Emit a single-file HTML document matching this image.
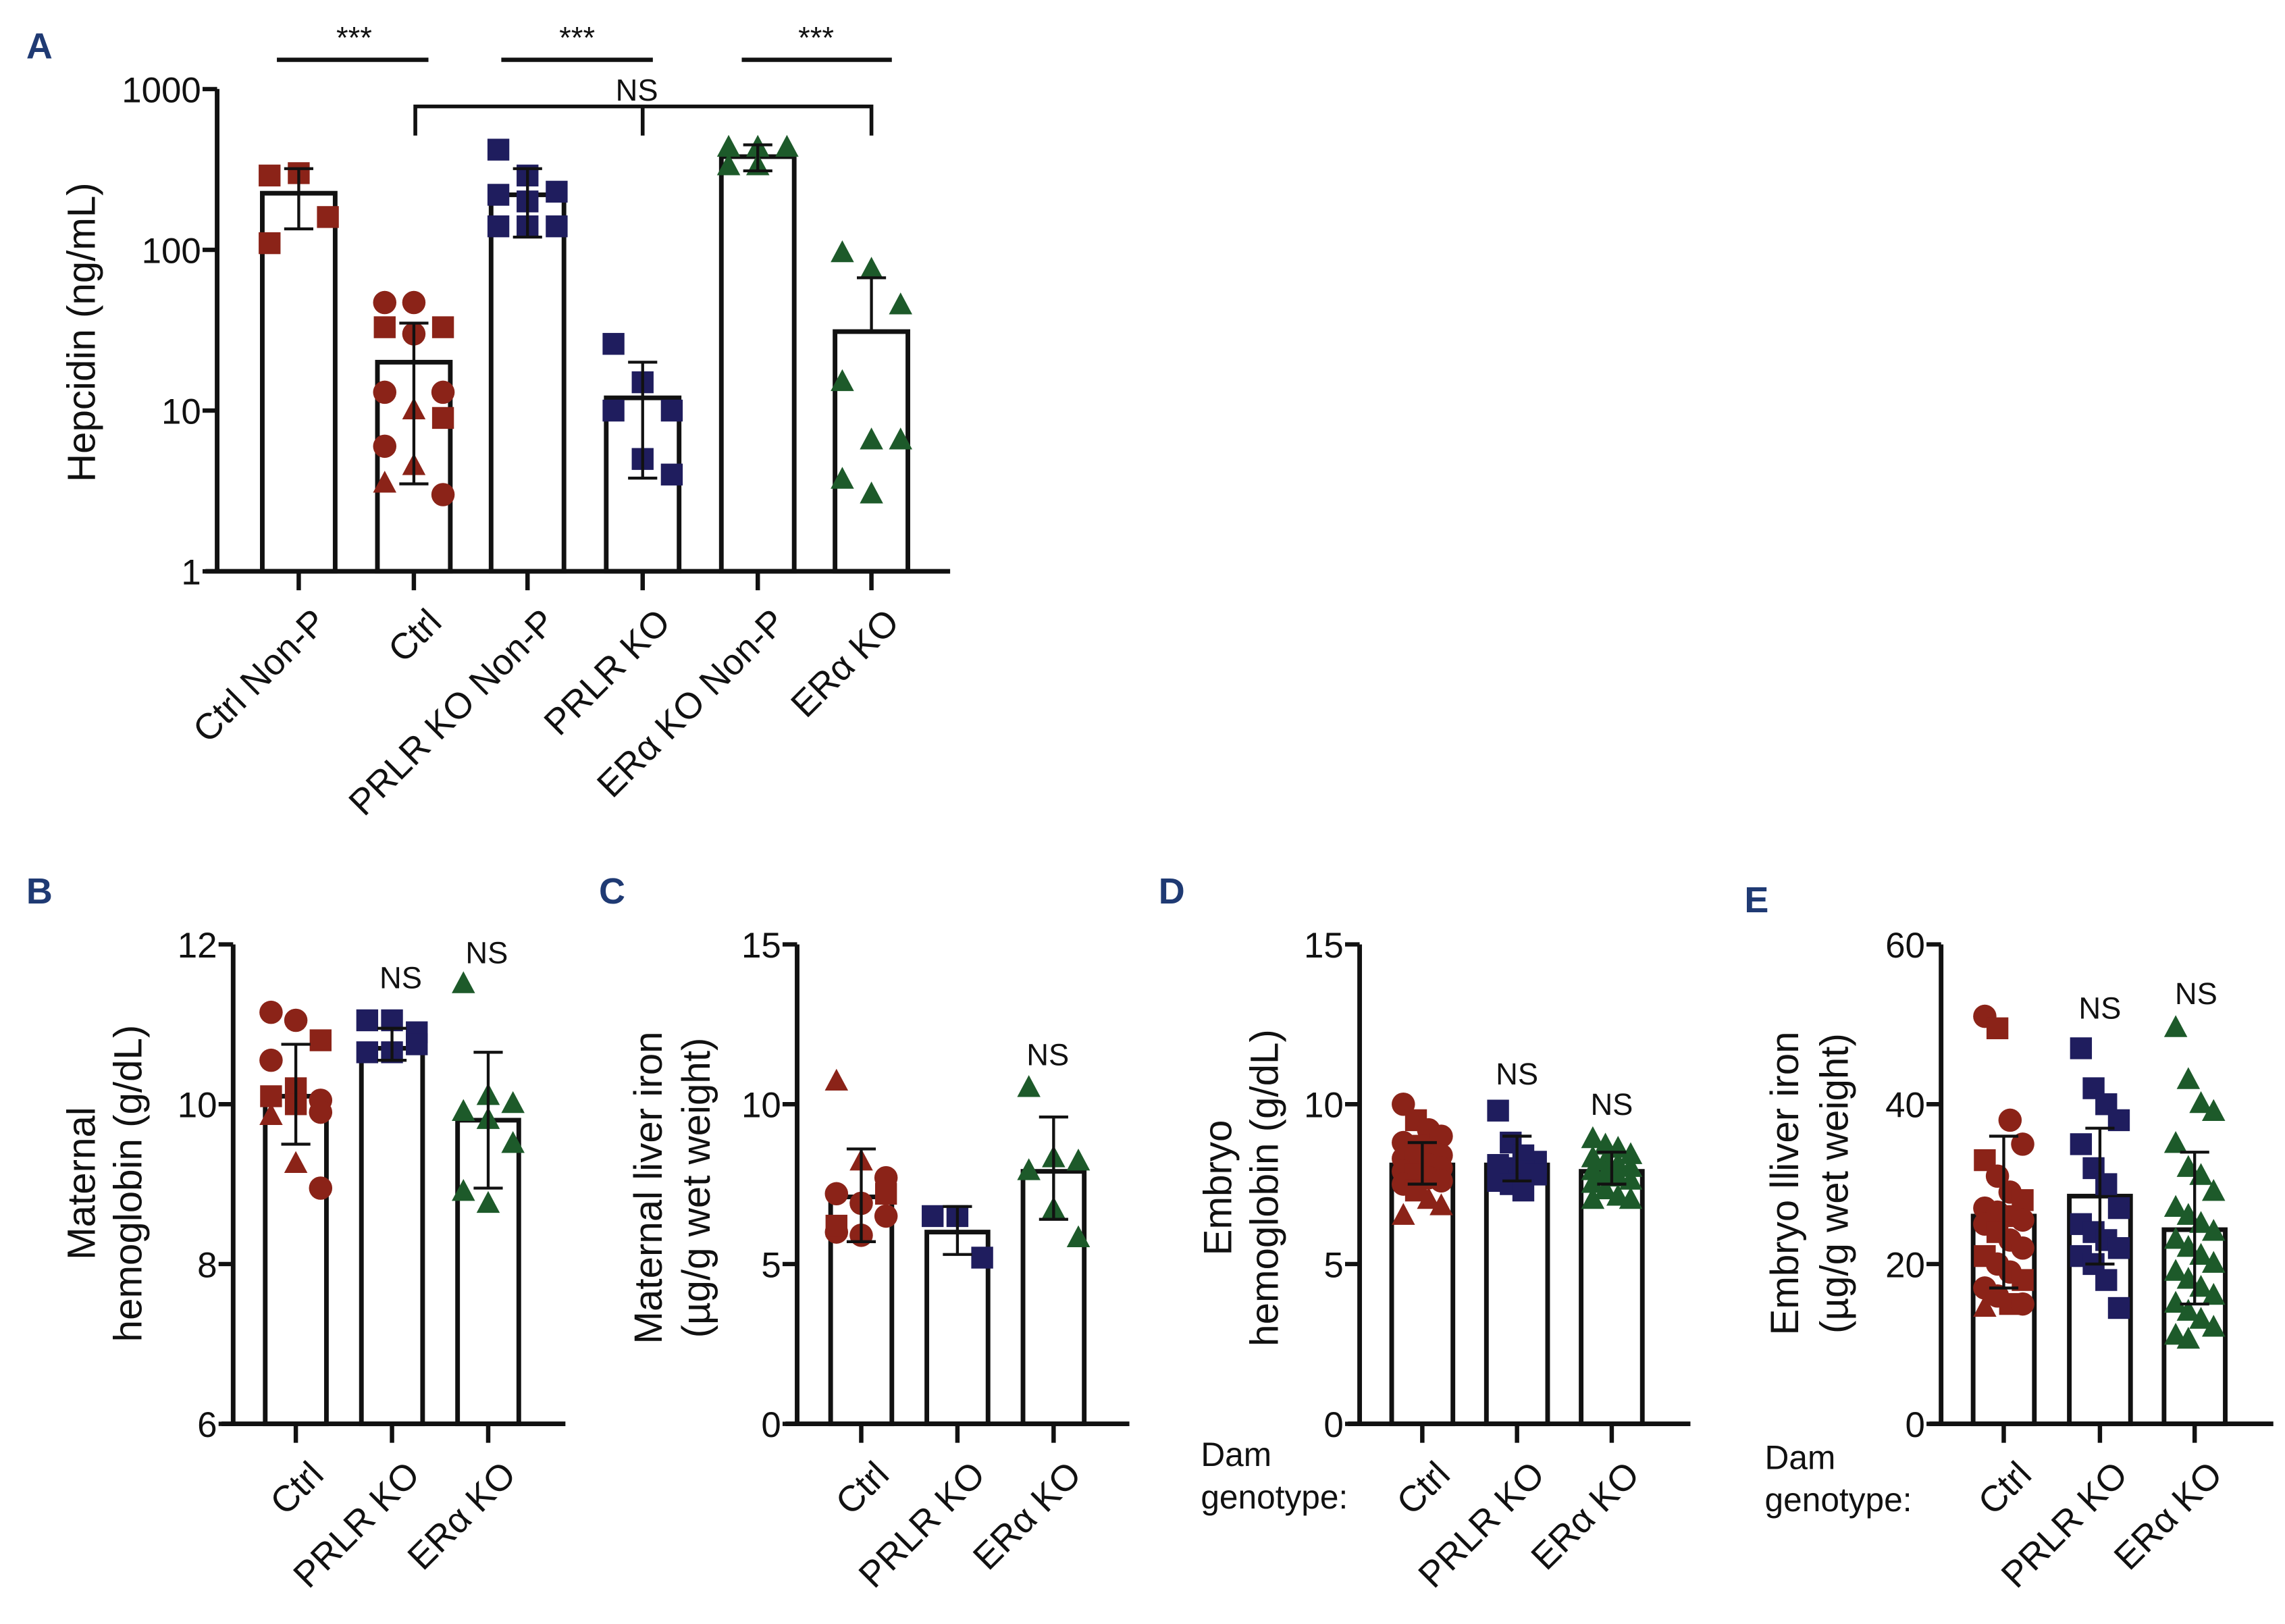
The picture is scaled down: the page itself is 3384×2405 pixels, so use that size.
<!DOCTYPE html>
<html><head><meta charset="utf-8"><style>
html,body{margin:0;padding:0;background:#fff}
svg{display:block}
text{font-family:"Liberation Sans",sans-serif}
</style></head><body>
<svg id="fig" xmlns="http://www.w3.org/2000/svg" width="3384" height="2405" viewBox="0 0 1568 1114.3">
<rect width="1568" height="1115" fill="#fff"/>
</svg>
<script>
// ---------- DATA ----------
const catsA = ["Ctrl Non-P","Ctrl","PRLR KO Non-P","PRLR KO","ERα KO Non-P","ERα KO"];
const meansA = [225,20,220,12,380,31];
const errLoA = [135,3.5,120,3.8,310,31];
const errHiA = [320,35,320,20,450,67];
const ptsA = [[290,300,160,110],[47,47,33,33,30,13,13,10,9,6,4.5,3,3.5],[420,290,230,220,200,140,140,140],[26,15,10,10,5,4],[430,430,430,330,330],[95,75,45,15,6.5,6.5,3.7,3]];
const shpA = [["s","s","s","s"],["c","c","s","s","c","c","c","t","s","c","t","c","t"],["s","s","s","s","s","s","s","s"],["s","s","s","s","s","s"],["t","t","t","t","t"],["t","t","t","t","t","t","t","t"]];
const colA = ["r","r","b","b","g","g"];
const ticksA = [1,10,100,1000];

const catsBCDE = ["Ctrl","PRLR KO","ERα KO"];
const meansB = [10.1,10.7,9.8], errLoB=[9.5,10.55,8.95], errHiB=[10.75,10.95,10.65];
const ptsB = [[11.15,11.05,10.8,10.55,10.2,10.05,10.1,10.0,9.9,9.85,9.25,8.95],[11.05,11.05,10.9,10.65,10.65,10.75],[11.5,10.1,10.0,9.9,9.8,9.5,8.9,8.75]];
const ticksB=[6,8,10,12];
const meansC=[7.1,6.0,7.9], errLoC=[5.7,5.3,6.4], errHiC=[8.6,6.8,9.6];
const ptsC=[[10.7,8.2,7.7,7.2,6.9,6.5,6.0,5.9,7.2,6.2],[6.5,6.5,5.2],[10.5,8.3,8.2,7.9,6.7,5.8]];
const ticksC=[0,5,10,15];
const meansD=[8.1,8.1,7.9], errLoD=[7.5,7.6,7.5], errHiD=[8.8,9.0,8.5];
const ptsD=[[10,9.5,9.2,9.0,8.8,8.7,8.5,8.4,8.3,8.2,8.1,8.0,7.9,7.8,7.7,7.6,7.5,7.3,7.0,6.8,6.5],[9.8,8.8,8.4,8.2,8.1,8.0,7.9,7.8,7.6,7.5,7.3],[8.9,8.7,8.6,8.4,8.3,8.2,8.1,8.0,7.9,7.8,7.7,7.6,7.5,7.3,7.1,7.0,7.0]];
const ticksD=[0,5,10,15];
const meansE=[26,28.5,24.3], errLoE=[17,20,15], errHiE=[36,37,34];
const ptsE=[[51,49.5,38,35,33,31,29,28,27,26.5,26,25.5,25,24,23,22,21,20,19,18,17,16,15,15,14.5],[47,42,40,38,35,32,30,27,25,24,23,22,21,20,18,14.5],[49.5,43,40,39,35,32,31,29,27,26,25,24,23,22,21,20,19,18,17,16,15,14,13,12,11,10.5]];
const ticksE=[0,20,40,60];

// ---------- DRAW ----------
const NS="http://www.w3.org/2000/svg";
const svg=document.getElementById('fig');
const COL={r:"#8b2318",b:"#1f1d5e",g:"#1d5a2a"};
function el(tag,attrs,parent){const e=document.createElementNS(NS,tag);for(const k in attrs)e.setAttribute(k,attrs[k]);(parent||svg).appendChild(e);return e;}
function txt(s,x,y,size,attrs,parent){const t=el('text',Object.assign({x:x,y:y,'font-size':size,fill:'#111'},attrs||{}),parent);t.textContent=s;return t;}
function marker(g,shape,cx,cy,color){
  let m;
  if(shape==="s"){m=el('rect',{x:cx-7.5,y:cy-7.5,width:15,height:15,fill:color},g);}
  else if(shape==="c"){m=el('circle',{cx:cx,cy:cy,r:8,fill:color},g);}
  else {m=el('polygon',{points:`${cx},${cy-9} ${cx+8},${cy+6} ${cx-8},${cy+6}`,fill:color},g);}
  
  
}
function jitter(i,n,w,span){ if(n<=1)return 0; const cols=Math.min(n,w); return ((i%cols)-(cols-1)/2)*(span/Math.max(cols-1,1)); }

function panel(o){
  const g=el('g',{});
  
  
  const y=o.scale;
  o.means.forEach((m,i)=>{
    const cx=o.xc[i];
    const b=el('rect',{x:cx-o.bw/2,y:y(m),width:o.bw,height:o.y0-y(m),fill:'#fff',stroke:'#111','stroke-width':3.2},g);
    
    
  });
  o.pts.forEach((arr,i)=>{
    arr.forEach((v,j)=>{
      const sh=o.shapes[i][j];
      marker(g,sh,o.xc[i]+jitter(j,arr.length,o.jw||3,o.span||36),y(v),COL[o.col[i]]);
    });
  });
  o.means.forEach((m,i)=>{
    const cx=o.xc[i];
    const e=el('path',{d:`M${cx},${y(o.lo[i])}V${y(o.hi[i])}M${cx-10},${y(o.hi[i])}H${cx+10}M${cx-10},${y(o.lo[i])}H${cx+10}`,stroke:'#111','stroke-width':2,fill:'none'},g);
    
    
  });
  const ax=el('path',{d:`M${o.ax},${o.ytop}V${o.y0}M${o.ax-8},${o.y0}H${o.xend}`,stroke:'#111','stroke-width':3.2,fill:'none'},g);
  
  
  o.ticks.forEach(t=>{
    el('path',{d:`M${o.ax-10},${y(t)}H${o.ax}`,stroke:'#111','stroke-width':3},g);
    const tl=txt(String(t),o.ax-11,y(t)+9,24.5,{'text-anchor':'end'},g);
    
    
  });
  o.xc.forEach((cx,i)=>{
    el('path',{d:`M${cx},${o.y0}V${o.y0+13}`,stroke:'#111','stroke-width':3},g);
    const lx=cx+8, ly=o.y0+24;
    const t=txt(o.cats[i],lx,ly,25,{'text-anchor':'end',transform:`rotate(-45 ${lx} ${ly})`,dy:'0.7em'},g);
    
    
  });
  o.ytitle.forEach((line,k)=>{
    const t=txt(line,o.tx[k],o.ty,27,{'text-anchor':'middle',transform:`rotate(-90 ${o.tx[k]} ${o.ty})`},g);
    
    
  });
  const L=txt(o.letter,o.lx,o.ly,25,{'font-weight':'bold',fill:'#1f3a73'},g);
  
  
  (o.ns||[]).forEach(n=>{
    const t=txt("NS",n[0],n[1],21,{'text-anchor':'middle'},g);
    
    
  });
  return g;
}

const logY=v=>392-110.3*Math.log10(v);
panel({name:'panel-a',letter:'A',lx:18,ly:40,cats:catsA,means:meansA,lo:errLoA,hi:errHiA,pts:ptsA,shapes:shpA,col:colA,
  xc:[205,284,362,441,520,598],bw:50,scale:logY,y0:392,ytop:61,ax:149,xend:652,ticks:ticksA,
  ytitle:["Hepcidin (ng/mL)"],tx:[65],ty:228,jw:3,span:40});
const sig=[[190,294,243],[344,448,396],[509,612,560]];
sig.forEach(s=>{
  const l=el('path',{d:`M${s[0]},41H${s[1]}`,stroke:'#111','stroke-width':3});
  
  
  const t=txt("***",s[2],33,21,{'text-anchor':'middle'});
  
  
});
const br=el('path',{d:'M285,93V73H598V93M441,73V93',stroke:'#111','stroke-width':2.6,fill:'none'});


const nsA=txt("NS",437,69,21,{'text-anchor':'middle'});



const lin=(lo,hi)=>v=>977-(v-lo)/(hi-lo)*329;
const cols3=["r","b","g"];
const shapesB=[ptsB[0].map((v,j)=>[2,4,6,7].includes(j)?"s":(j===9||j===10)?"t":"c"),ptsB[1].map(()=>"s"),ptsB[2].map(()=>"t")];
panel({name:'panel-b',letter:'B',lx:18,ly:620,cats:catsBCDE,means:meansB,lo:errLoB,hi:errHiB,pts:ptsB,shapes:shapesB,col:cols3,
  xc:[203,269,335],bw:42,scale:lin(6,12),y0:977,ytop:648,ax:160,xend:388,ticks:ticksB,
  ytitle:["Maternal","hemoglobin (g/dL)"],tx:[65,97],ty:812,ns:[[275,678],[334,661]],jw:3,span:34});
const shapesC=[ptsC[0].map((v,j)=>j<2?"t":j>=8?"s":"c"),ptsC[1].map(()=>"s"),ptsC[2].map(()=>"t")];
panel({name:'panel-c',letter:'C',lx:411,ly:620,cats:catsBCDE,means:meansC,lo:errLoC,hi:errHiC,pts:ptsC,shapes:shapesC,col:cols3,
  xc:[591,657,723],bw:42,scale:lin(0,15),y0:977,ytop:648,ax:547,xend:775,ticks:ticksC,
  ytitle:["Maternal liver iron","(µg/g wet weight)"],tx:[454,487],ty:815,ns:[[719,731]],jw:3,span:34});
const shapesD=[ptsD[0].map((v,j)=>j>=18?"t":(j%4===1?"s":"c")),ptsD[1].map(()=>"s"),ptsD[2].map(()=>"t")];
panel({name:'panel-d',letter:'D',lx:795,ly:620,cats:catsBCDE,means:meansD,lo:errLoD,hi:errHiD,pts:ptsD,shapes:shapesD,col:cols3,
  xc:[976,1041,1106],bw:42,scale:lin(0,15),y0:977,ytop:648,ax:933,xend:1160,ticks:ticksD,
  ytitle:["Embryo","hemoglobin (g/dL)"],tx:[845,877],ty:815,ns:[[1041,744],[1106,765]],jw:4,span:26});
const shapesE=[ptsE[0].map((v,j)=>j%3===1?"s":(j>=21&&j%2===0)?"t":"c"),ptsE[1].map(()=>"s"),ptsE[2].map(()=>"t")];
panel({name:'panel-e',letter:'E',lx:1197,ly:626,cats:catsBCDE,means:meansE,lo:errLoE,hi:errHiE,pts:ptsE,shapes:shapesE,col:cols3,
  xc:[1375,1441,1506],bw:42,scale:lin(0,60),y0:977,ytop:648,ax:1332,xend:1560,ticks:ticksE,
  ytitle:["Embryo lliver iron","(µg/g wet weight)"],tx:[1234,1268],ty:812,ns:[[1441,699],[1507,689]],jw:4,span:26});

[[824,1006],[1211,1008]].forEach(p=>{
  const t=txt("Dam",p[0],p[1],23,{});
  
  
  const t2=txt("genotype:",p[0],p[1]+29,23,{});
  
  
});
</script>
</body></html>
